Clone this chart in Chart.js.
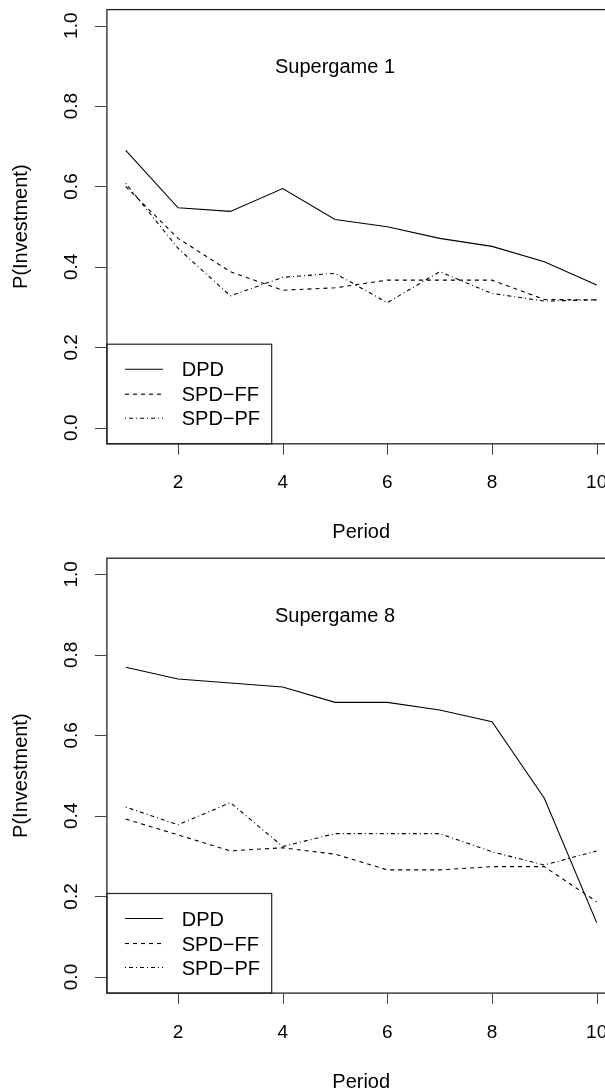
<!DOCTYPE html>
<html>
<head>
<meta charset="utf-8">
<script src="https://cdn.jsdelivr.net/npm/chart.js@4.4.1/dist/chart.umd.min.js"></script>
<style>
  html, body { margin: 0; padding: 0; background: #fff; width: 605px; height: 1090px; overflow: hidden; }
  canvas { position: absolute; left: 0; }
</style>
</head>
<body>
<canvas id="c1" width="625" height="545" style="top:0px"></canvas>
<canvas id="c2" width="625" height="545" style="top:545px"></canvas>
<script>
// ---- data ----
const periods = [1, 2, 3, 4, 5, 6, 7, 8, 9, 10];
const seriesNames = ["DPD", "SPD\u2212FF", "SPD\u2212PF"];
const sg1DPD = [0.690, 0.547, 0.538, 0.595, 0.518, 0.500, 0.471, 0.451, 0.413, 0.355];
const sg1FF  = [0.600, 0.471, 0.388, 0.342, 0.348, 0.367, 0.367, 0.367, 0.319, 0.318];
const sg1PF  = [0.608, 0.446, 0.328, 0.374, 0.384, 0.311, 0.388, 0.334, 0.315, 0.318];
const sg8DPD = [0.769, 0.740, 0.730, 0.720, 0.682, 0.682, 0.663, 0.634, 0.444, 0.135];
const sg8FF  = [0.392, 0.353, 0.313, 0.321, 0.305, 0.266, 0.266, 0.274, 0.274, 0.187];
const sg8PF  = [0.422, 0.378, 0.433, 0.324, 0.356, 0.356, 0.356, 0.311, 0.278, 0.313];
const xTicks = [2, 4, 6, 8, 10];
const xTickLabels = ["2", "4", "6", "8", "10"];
const yTicks = [0, 0.2, 0.4, 0.6, 0.8, 1.0];
const yTickLabels = ["0.0", "0.2", "0.4", "0.6", "0.8", "1.0"];
const panelTitles = ["Supergame 1", "Supergame 8"];
const xTitle = "Period";
const yTitle = "P(Investment)";

const FONT = '"Liberation Sans", Arial, Helvetica, sans-serif';
const dashes = [[], [4, 4], [1, 3, 4, 3]];

function toPts(arr) { return periods.map((p, i) => ({ x: p, y: arr[i] })); }

const rPlot = {
  id: 'rPlot',
  afterDraw(chart, args, opts) {
    const ctx = chart.ctx;
    const a = chart.chartArea;
    const xs = chart.scales.x, ys = chart.scales.y;
    ctx.save();
    // box
    ctx.strokeStyle = '#222';
    ctx.lineWidth = 1.3;
    ctx.strokeRect(a.left, a.top, a.right - a.left, a.bottom - a.top);
    // ticks
    ctx.strokeStyle = '#444';
    ctx.lineWidth = 1;
    ctx.fillStyle = '#000';
    ctx.font = '19px ' + FONT;
    xTicks.forEach((v, i) => {
      const px = Math.round(xs.getPixelForValue(v)) + 0.5;
      ctx.beginPath(); ctx.moveTo(px, a.bottom); ctx.lineTo(px, a.bottom + 11); ctx.stroke();
      ctx.textAlign = 'center'; ctx.textBaseline = 'alphabetic';
      ctx.fillText(xTickLabels[i], xs.getPixelForValue(v), a.bottom + 44.5);
    });
    yTicks.forEach((v, i) => {
      const py = Math.round(ys.getPixelForValue(v)) + 0.5;
      ctx.beginPath(); ctx.moveTo(a.left, py); ctx.lineTo(a.left - 12, py); ctx.stroke();
      ctx.save();
      ctx.translate(a.left - 30, ys.getPixelForValue(v));
      ctx.rotate(-Math.PI / 2);
      ctx.textAlign = 'center'; ctx.textBaseline = 'alphabetic';
      ctx.fillText(yTickLabels[i], 0, 0);
      ctx.restore();
    });
    // axis titles
    ctx.font = '20px ' + FONT;
    ctx.textAlign = 'center'; ctx.textBaseline = 'alphabetic';
    ctx.fillText(xTitle, (a.left + a.right) / 2, a.bottom + 94.5);
    ctx.save();
    ctx.translate(27, (a.top + a.bottom) / 2);
    ctx.rotate(-Math.PI / 2);
    ctx.fillText(yTitle, 0, 0);
    ctx.restore();
    // panel title text at data coords (5, 0.9)
    ctx.fillText(opts.title, xs.getPixelForValue(5), ys.getPixelForValue(0.9) + 7.2);
    // legend (bottom-left)
    const boxRight = 271.7, boxTop = a.bottom - 99.6;
    ctx.strokeStyle = '#222';
    ctx.lineWidth = 1.2;
    ctx.strokeRect(a.left, boxTop, boxRight - a.left, a.bottom - boxTop);
    const rows = [25, 50, 74];
    seriesNames.forEach((nm, i) => {
      const ry = boxTop + rows[i];
      ctx.strokeStyle = '#000';
      ctx.lineWidth = 1.1;
      ctx.setLineDash(dashes[i]);
      ctx.beginPath(); ctx.moveTo(125, ry); ctx.lineTo(163, ry); ctx.stroke();
      ctx.setLineDash([]);
      ctx.textAlign = 'left';
      ctx.fillText(nm, 181.7, ry + 7.2);
    });
    ctx.restore();
  }
};

function makeChart(id, dpd, ff, pf, title, padTop, padBottom) {
  const arrs = [dpd, ff, pf];
  new Chart(document.getElementById(id), {
    type: 'line',
    data: {
      datasets: arrs.map((arr, i) => ({
        label: seriesNames[i],
        data: toPts(arr),
        borderColor: '#000',
        borderWidth: 1.1,
        borderDash: dashes[i],
        pointRadius: 0,
        fill: false,
        tension: 0
      }))
    },
    options: {
      responsive: false,
      animation: false,
      layout: { padding: { left: 106.9, right: 9.5, top: padTop, bottom: padBottom } },
      plugins: { legend: { display: false }, tooltip: { enabled: false }, rPlot: { title: title } },
      scales: {
        x: { type: 'linear', min: 0.64, max: 10.36, display: false },
        y: { type: 'linear', min: -0.04, max: 1.04, display: false }
      }
    },
    plugins: [rPlot]
  });
}

makeChart('c1', sg1DPD, sg1FF, sg1PF, panelTitles[0], 9.6, 545 - 443.8);
makeChart('c2', sg8DPD, sg8FF, sg8PF, panelTitles[1], 13.2, 545 - 448.1);
</script>
</body>
</html>
